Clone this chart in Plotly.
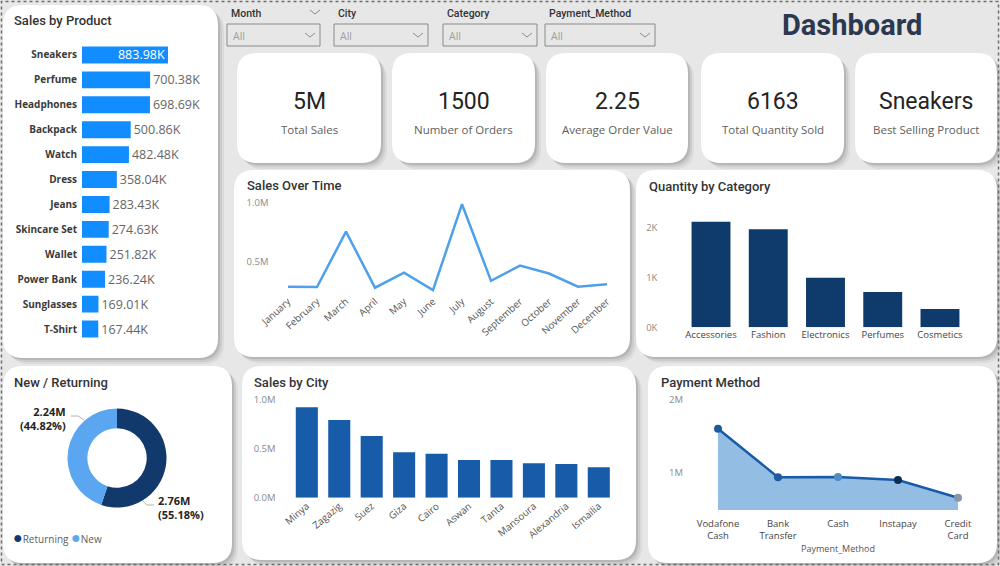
import plotly.graph_objects as go

W, H = 1000, 566

# ---------------- DATA ----------------
products = ["Sneakers", "Perfume", "Headphones", "Backpack", "Watch", "Dress", "Jeans",
            "Skincare Set", "Wallet", "Power Bank", "Sunglasses", "T-Shirt"]
product_sales_k = [883.98, 700.38, 698.69, 500.86, 482.48, 358.04, 283.43,
                   274.63, 251.82, 236.24, 169.01, 167.44]

months = ["January", "February", "March", "April", "May", "June", "July", "August",
          "September", "October", "November", "December"]
month_sales = [290000, 288000, 757000, 282000, 410000, 262000, 990000, 340000,
               470000, 402000, 290000, 312000]

categories = ["Accessories", "Fashion", "Electronics", "Perfumes", "Cosmetics"]
category_qty = [2120, 1970, 995, 710, 368]

cust_labels = ["Returning", "New"]
cust_sales = [2759000, 2241000]

cities = ["Minya", "Zagazig", "Suez", "Giza", "Cairo", "Aswan", "Tanta", "Mansoura",
          "Alexandria", "Ismailia"]
city_sales = [919000, 790000, 627000, 461000, 447000, 383000, 383000, 350000, 342000, 309000]

pay_methods = ["Vodafone<br>Cash", "Bank<br>Transfer", "Cash", "Instapay", "Credit<br>Card"]
pay_sales = [1600000, 945000, 948000, 905000, 665000]

kpi_values = ["5M", "1500", "2.25", "6163", "Sneakers"]
kpi_labels = ["Total Sales", "Number of Orders", "Average Order Value",
              "Total Quantity Sold", "Best Selling Product"]

slicer_names = ["Month", "City", "Category", "Payment_Method"]

# ---------------- HELPERS ----------------
def px(x):
    return x / W

def py(y):
    return 1 - y / H

def rrect_path(x0, y0, x1, y1, r):
    rx, ry = r / W, r / H
    X0, X1 = px(x0), px(x1)
    Y0, Y1 = py(y0), py(y1)  # Y0 top (larger), Y1 bottom
    return (f"M {X0+rx},{Y0} L {X1-rx},{Y0} Q {X1},{Y0} {X1},{Y0-ry} "
            f"L {X1},{Y1+ry} Q {X1},{Y1} {X1-rx},{Y1} L {X0+rx},{Y1} "
            f"Q {X0},{Y1} {X0},{Y1+ry} L {X0},{Y0-ry} Q {X0},{Y0} {X0+rx},{Y0} Z")

shapes = []
annotations = []

TITLE_FONT = "Roboto"
BODY_FONT = "Open Sans"

def card(x0, y0, x1, y1, r=20):
    # soft shadow
    for d, op in [(6, 0.05), (4, 0.07), (2, 0.10)]:
        shapes.append(dict(type="path", path=rrect_path(x0 + d, y0 + d, x1 + d, y1 + d, r),
                           xref="paper", yref="paper", fillcolor=f"rgba(0,0,0,{op})",
                           line=dict(width=0), layer="below"))
    shapes.append(dict(type="path", path=rrect_path(x0, y0, x1, y1, r),
                       xref="paper", yref="paper", fillcolor="white",
                       line=dict(width=0), layer="below"))

def title(text, x, y, size=13):
    annotations.append(dict(text=text, x=px(x), y=py(y), xref="paper", yref="paper",
                            xanchor="left", yanchor="middle", showarrow=False,
                            font=dict(family=TITLE_FONT, size=size, color="#333333", weight=500)))

# ---------------- CARDS ----------------
card(3, 5, 218, 358)
kpi_boxes = [(237, 53, 381, 163), (392, 53, 535, 163), (546, 53, 688, 163),
             (701, 53, 844, 163), (855, 53, 997, 163)]
for b in kpi_boxes:
    card(*b)
card(234, 170, 630, 357)
card(636, 170, 997, 357)
card(3, 366, 232, 563)
card(242, 366, 636, 560)
card(648, 366, 997, 563)

# dotted outer frame
shapes.append(dict(type="rect", xref="paper", yref="paper", x0=px(1.5), x1=px(998.5),
                   y0=py(564.5), y1=py(1.5), line=dict(color="#6d6d6d", width=1.5, dash="dot"),
                   fillcolor="rgba(0,0,0,0)", layer="above"))

# titles
title("Sales by Product", 12, 20)
title("Sales Over Time", 245, 185)
title("Quantity by Category", 647, 186)
title("New / Returning", 12, 382)
title("Sales by City", 252, 382)
title("Payment Method", 659, 382)

# Dashboard heading
annotations.append(dict(text="Dashboard", x=px(852), y=py(25), xref="paper", yref="paper",
                        showarrow=False, xanchor="center", yanchor="middle",
                        font=dict(family=TITLE_FONT, size=29, color="#2b3850", weight=700)))

# KPI text
for (x0, y0, x1, y1), v, lab in zip(kpi_boxes, kpi_values, kpi_labels):
    cx = (x0 + x1) / 2
    annotations.append(dict(text=v, x=px(cx), y=py(102), xref="paper", yref="paper",
                            showarrow=False, xanchor="center", yanchor="middle",
                            font=dict(family=TITLE_FONT, size=23, color="#252423", weight=400)))
    annotations.append(dict(text=lab, x=px(cx), y=py(129), xref="paper", yref="paper",
                            showarrow=False, xanchor="center", yanchor="middle",
                            font=dict(family=BODY_FONT, size=11.5, color="#605e5c")))

# Slicers
slicer_boxes = [(227, 24, 320, 46), (334, 24, 428, 46), (443, 24, 537, 46), (545, 24, 655, 46)]
for (x0, y0, x1, y1), name in zip(slicer_boxes, slicer_names):
    shapes.append(dict(type="rect", xref="paper", yref="paper", x0=px(x0), x1=px(x1),
                       y0=py(y1), y1=py(y0), line=dict(color="#8a8a8a", width=1),
                       fillcolor="rgba(0,0,0,0)", layer="below"))
    annotations.append(dict(text=name, x=px(x0 + 2), y=py(14), xref="paper", yref="paper",
                            showarrow=False, xanchor="left", yanchor="middle",
                            font=dict(family=TITLE_FONT, size=10.5, color="#333333", weight=500)))
    annotations.append(dict(text="All", x=px(x0 + 4), y=py(36), xref="paper", yref="paper",
                            showarrow=False, xanchor="left", yanchor="middle",
                            font=dict(family=BODY_FONT, size=10.5, color="#a0a0a0")))
    # chevron
    cx = x1 - 10
    shapes.append(dict(type="path", xref="paper", yref="paper",
                       path=f"M {px(cx-5)},{py(33)} L {px(cx)},{py(37)} L {px(cx+5)},{py(33)}",
                       line=dict(color="#8a8a8a", width=1), layer="below"))
# Month header chevron
shapes.append(dict(type="path", xref="paper", yref="paper",
                   path=f"M {px(310)},{py(10)} L {px(315)},{py(14)} L {px(320)},{py(10)}",
                   line=dict(color="#8a8a8a", width=1), layer="below"))

fig = go.Figure()

# ---------------- Sales by Product ----------------
prod_text = [f"{v:.2f}K" for v in product_sales_k]
prod_pos = ["inside"] + ["outside"] * (len(products) - 1)
fig.add_trace(go.Bar(
    x=product_sales_k, y=products, orientation="h", xaxis="x", yaxis="y",
    marker=dict(color="#118dff", line=dict(width=0)),
    text=prod_text, textposition=prod_pos, insidetextanchor="end",
    insidetextfont=dict(family=BODY_FONT, size=12.5, color="white"),
    outsidetextfont=dict(family=BODY_FONT, size=12.5, color="#666666"),
    constraintext="none", cliponaxis=False, showlegend=False, hoverinfo="skip"))

# ---------------- Sales Over Time ----------------
fig.add_trace(go.Scatter(
    x=months, y=month_sales, mode="lines", xaxis="x2", yaxis="y2",
    line=dict(color="#4fa0ea", width=2.5), showlegend=False, hoverinfo="skip"))

# ---------------- Quantity by Category ----------------
fig.add_trace(go.Bar(
    x=categories, y=category_qty, xaxis="x3", yaxis="y3",
    marker=dict(color="#0f3a6c", line=dict(width=0)), showlegend=False, hoverinfo="skip"))

# ---------------- Sales by City ----------------
fig.add_trace(go.Bar(
    x=cities, y=city_sales, xaxis="x4", yaxis="y4",
    marker=dict(color="#175ca8", line=dict(width=0)), showlegend=False, hoverinfo="skip"))

# ---------------- Payment Method ----------------
fig.add_trace(go.Scatter(
    x=pay_methods, y=pay_sales, mode="lines+markers", xaxis="x5", yaxis="y5",
    fill="tozeroy", fillcolor="#94bde4",
    line=dict(color="#175ca8", width=2.5),
    marker=dict(size=8, color=["#1d5a98", "#1d5aa2", "#4e8cc6", "#0d2c55", "#8596ad"]),
    showlegend=False, hoverinfo="skip"))

# ---------------- New / Returning donut ----------------
fig.add_trace(go.Pie(
    labels=cust_labels, values=cust_sales, hole=0.6, sort=False, direction="clockwise",
    rotation=0, marker=dict(colors=["#12396b", "#5ba6f0"], line=dict(width=0)),
    textinfo="none", showlegend=False, hoverinfo="skip",
    domain=dict(x=[px(67.5), px(166.5)], y=[py(507.5), py(408.5)])))

total = sum(cust_sales)
ret_txt = f"<b>{cust_sales[0]/1e6:.2f}M<br>({cust_sales[0]/total*100:.2f}%)</b>"
new_txt = f"<b>{cust_sales[1]/1e6:.2f}M<br>({cust_sales[1]/total*100:.2f}%)</b>"
annotations.append(dict(text=new_txt, x=px(68), y=py(418), xref="paper", yref="paper",
                        showarrow=False, xanchor="right", yanchor="middle", align="right",
                        font=dict(family=BODY_FONT, size=11, color="#252423")))
annotations.append(dict(text=ret_txt, x=px(156), y=py(507), xref="paper", yref="paper",
                        showarrow=False, xanchor="left", yanchor="middle", align="left",
                        font=dict(family=BODY_FONT, size=11, color="#252423")))
shapes.append(dict(type="path", xref="paper", yref="paper",
                   path=f"M {px(71)},{py(416)} L {px(78)},{py(416)} L {px(84)},{py(420)}",
                   line=dict(color="#b0b0b0", width=1), layer="above"))
shapes.append(dict(type="path", xref="paper", yref="paper",
                   path=f"M {px(143)},{py(501)} L {px(147)},{py(505)} L {px(154)},{py(505)}",
                   line=dict(color="#b0b0b0", width=1), layer="above"))
# legend
annotations.append(dict(text="<span style='color:#12396b;font-size:16px'>●</span>Returning "
                             "<span style='color:#5ba6f0;font-size:16px'>●</span>New",
                        x=px(11), y=py(537), xref="paper", yref="paper", showarrow=False,
                        xanchor="left", yanchor="middle",
                        font=dict(family=BODY_FONT, size=10, color="#605e5c")))

# ---------------- LAYOUT ----------------
tick_gray = dict(family=BODY_FONT, size=9.5, color="#8a8a8a")
tick_dark = dict(family=BODY_FONT, size=9.5, color="#444444")
hidden = dict(showgrid=False, zeroline=False, showline=False, ticks="", automargin=False)

fig.update_layout(
    width=W, height=H, margin=dict(l=0, r=0, t=0, b=0, pad=0, autoexpand=False),
    paper_bgcolor="#e7e7e7", plot_bgcolor="rgba(0,0,0,0)",
    shapes=shapes, annotations=annotations, bargap=0.32,
    xaxis=dict(domain=[px(82), px(214)], range=[0, 1357], showticklabels=False, **hidden),
    yaxis=dict(domain=[py(341.5), py(42.5)], range=[11.5, -0.5], anchor="x",
               tickfont=dict(family=BODY_FONT, size=10, color="#3a3a3a", weight=700),
               ticklabelstandoff=4, **hidden),
    xaxis2=dict(domain=[px(273.5), px(621.5)], range=[-0.5, 11.5], anchor="y2",
                tickangle=-42, tickfont=dict(family=BODY_FONT, size=9.8, color="#555555"), **hidden),
    yaxis2=dict(domain=[py(293), py(195)], range=[237000, 1068000], anchor="x2",
                tickvals=[500000, 1000000], ticktext=["0.5M", "1.0M"], tickfont=tick_gray,
                ticklabelstandoff=4, **hidden),
    xaxis3=dict(domain=[px(682.4), px(968.6)], range=[-0.5, 4.5], anchor="y3",
                tickfont=tick_dark, **hidden),
    yaxis3=dict(domain=[py(327.3), py(212.8)], range=[0, 2300], anchor="x3",
                tickvals=[0, 1000, 2000], ticktext=["0K", "1K", "2K"], tickfont=tick_gray,
                ticklabelstandoff=24, **hidden),
    xaxis4=dict(domain=[px(290.6), px(615)], range=[-0.5, 9.5], anchor="y4",
                tickangle=-40, tickfont=dict(family=BODY_FONT, size=9.8, color="#555555"), **hidden),
    yaxis4=dict(domain=[py(497.7), py(394.4)], range=[0, 1050000], anchor="x4",
                tickvals=[0, 500000, 1000000], ticktext=["0.0M", "0.5M", "1.0M"],
                tickfont=tick_gray, ticklabelstandoff=14, **hidden),
    xaxis5=dict(domain=[px(688), px(988)], range=[-0.5, 4.5], anchor="y5",
                tickfont=tick_dark, ticklabelstandoff=6,
                title=dict(text="Payment_Method", standoff=4,
                           font=dict(family=BODY_FONT, size=9, color="#555555")), **hidden),
    yaxis5=dict(domain=[py(510), py(395.6)], range=[500000, 2050000], anchor="x5",
                tickvals=[1000000, 2000000], ticktext=["1M", "2M"], tickfont=tick_gray,
                ticklabelstandoff=4, **hidden),
)

fig.write_html("out.html")
